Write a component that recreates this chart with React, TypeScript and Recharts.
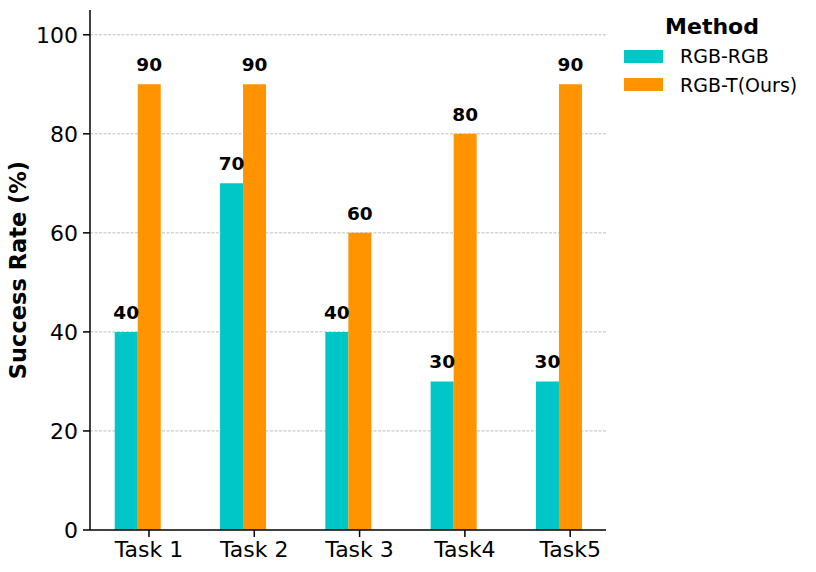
import React from "react";
import {
  Bar,
  BarChart,
  CartesianGrid,
  LabelList,
  XAxis,
  YAxis,
} from "recharts";

const tasks = ["Task 1", "Task 2", "Task 3", "Task4", "Task5"];
const rgbRgb = [40, 70, 40, 30, 30];
const rgbT = [90, 90, 60, 80, 90];
const yTicks = [0, 20, 40, 60, 80, 100];

const series = [
  { key: "rgbRgb", name: "RGB-RGB", color: "#00C7C7" },
  { key: "rgbT", name: "RGB-T(Ours)", color: "#FF9300" },
];

// tick marks sit under the orange bar, like in the original figure
const TICK_SHIFT = 0.11;

const data = tasks.map((t, i) => ({
  x: i,
  task: t,
  rgbRgb: rgbRgb[i],
  rgbT: rgbT[i],
}));

const FONT = "DejaVu Sans, sans-serif";

function YLabel({ viewBox }: any) {
  const cx = 18;
  const cy = viewBox.y + viewBox.height / 2;
  return (
    <text
      x={cx}
      y={cy}
      transform={`rotate(-90, ${cx}, ${cy})`}
      textAnchor="middle"
      dominantBaseline="central"
      fontFamily={FONT}
      fontWeight="bold"
      fontSize={22.5}
      fill="#000"
    >
      Success Rate (%)
    </text>
  );
}

export default function App() {
  return (
    <div
      style={{
        position: "absolute",
        left: 0,
        top: 0,
        width: 816,
        height: 572,
        background: "#fff",
        fontFamily: FONT,
      }}
    >
      <BarChart
        width={816}
        height={572}
        data={data}
        margin={{ top: 10, right: 210, left: 10, bottom: 12 }}
        barGap={0}
      >
        <CartesianGrid
          vertical={false}
          horizontalValues={[20, 40, 60, 80, 100]}
          stroke="#b8b8b8"
          strokeDasharray="3 1.5"
          strokeWidth={0.9}
        />
        <XAxis
          dataKey="x"
          type="number"
          domain={[-0.45, 4.45]}
          ticks={tasks.map((_, i) => i + TICK_SHIFT)}
          interval={0}
          tickFormatter={(v: number) => tasks[Math.round(v - TICK_SHIFT)]}
          height={30}
          tickSize={7}
          tickMargin={4}
          stroke="#000"
          strokeWidth={1.5}
          tick={{ fill: "#000", fontSize: 22, fontFamily: FONT }}
          allowDataOverflow
        />
        <YAxis
          type="number"
          domain={[0, 105]}
          ticks={yTicks}
          width={80}
          tickSize={7}
          tickMargin={5}
          stroke="#000"
          strokeWidth={1.5}
          tick={{ fill: "#000", fontSize: 22, fontFamily: FONT }}
          label={<YLabel />}
        />
        {series.map((s) => (
          <Bar
            key={s.key}
            dataKey={s.key}
            name={s.name}
            fill={s.color}
            barSize={23}
            isAnimationActive={false}
          >
            <LabelList
              dataKey={s.key}
              position="top"
              offset={13}
              style={{
                fill: "#000",
                fontSize: 18.5,
                fontWeight: "bold",
                fontFamily: FONT,
              }}
            />
          </Bar>
        ))}
      </BarChart>
      <div
        style={{
          position: "absolute",
          left: 624,
          top: 14,
          fontFamily: FONT,
          color: "#000",
        }}
      >
        <div
          style={{
            fontWeight: "bold",
            fontSize: 22,
            textAlign: "center",
            width: 176,
            lineHeight: "26px",
            marginBottom: 2,
          }}
        >
          Method
        </div>
        {series.map((s) => (
          <div
            key={s.key}
            style={{
              display: "flex",
              alignItems: "center",
              height: 28.5,
              fontSize: 19,
            }}
          >
            <span
              style={{
                display: "inline-block",
                width: 39,
                height: 13,
                background: s.color,
                marginRight: 17,
              }}
            />
            {s.name}
          </div>
        ))}
      </div>
    </div>
  );
}
